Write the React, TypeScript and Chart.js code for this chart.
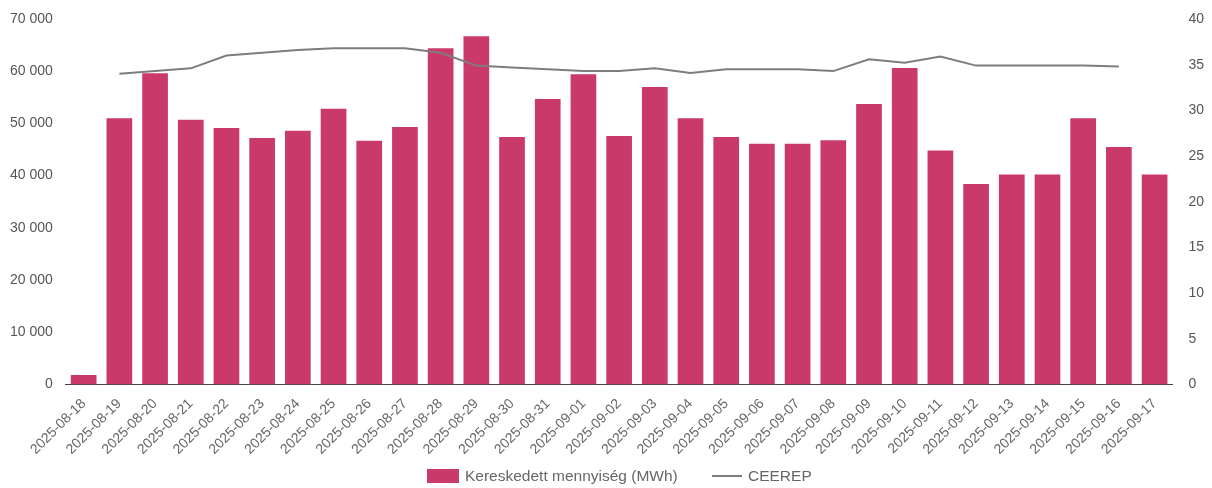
import React, { useEffect, useRef } from "react";
import { Chart, registerables } from "chart.js";

Chart.register(...registerables);

const categories = [
  "2025-08-18", "2025-08-19", "2025-08-20", "2025-08-21", "2025-08-22", "2025-08-23",
  "2025-08-24", "2025-08-25", "2025-08-26", "2025-08-27", "2025-08-28", "2025-08-29",
  "2025-08-30", "2025-08-31", "2025-09-01", "2025-09-02", "2025-09-03", "2025-09-04",
  "2025-09-05", "2025-09-06", "2025-09-07", "2025-09-08", "2025-09-09", "2025-09-10",
  "2025-09-11", "2025-09-12", "2025-09-13", "2025-09-14", "2025-09-15", "2025-09-16",
  "2025-09-17",
];

const volumeMWh = [
  1800, 51000, 59600, 50700, 49100, 47200,
  48600, 52800, 46700, 49300, 64400, 66700,
  47400, 54700, 59400, 47600, 57000, 51000,
  47400, 46100, 46100, 46800, 53700, 60600,
  44800, 38400, 40200, 40200, 51000, 45500,
  40200,
];

const ceerep: (number | null)[] = [
  null, 34.0, 34.3, 34.6, 36.0, 36.3,
  36.6, 36.8, 36.8, 36.8, 36.3, 34.9,
  34.7, 34.5, 34.3, 34.3, 34.6, 34.1,
  34.5, 34.5, 34.5, 34.3, 35.6, 35.2,
  35.9, 34.9, 34.9, 34.9, 34.9, 34.8,
  null,
];

const leftTicks = { min: 0, max: 70000, step: 10000 };
const rightTicks = { min: 0, max: 40, step: 5 };

const seriesNames = ["Kereskedett mennyiség (MWh)", "CEEREP"];
const barColor = "#c93a6b";
const lineColor = "#7d7d7d";

export default function App() {
  const ref = useRef<HTMLCanvasElement | null>(null);

  useEffect(() => {
    if (!ref.current) return;
    const font = { family: "'Liberation Sans', Arial, sans-serif", size: 14 };
    const chart = new Chart(ref.current, {
      type: "bar",
      data: {
        labels: categories,
        datasets: [
          {
            type: "bar",
            label: seriesNames[0],
            data: volumeMWh,
            backgroundColor: barColor,
            borderWidth: 0,
            yAxisID: "y",
            order: 1,
          } as any,
          {
            type: "line",
            label: seriesNames[1],
            data: ceerep,
            borderColor: lineColor,
            backgroundColor: lineColor,
            borderWidth: 2,
            pointRadius: 0,
            tension: 0,
            yAxisID: "y1",
            order: 0,
          } as any,
        ],
      },
      options: {
        responsive: false,
        animation: false,
        maintainAspectRatio: false,
        layout: { padding: { left: 5, right: 0, top: 19, bottom: 27 } },
        plugins: {
          tooltip: { enabled: false },
          legend: { display: false },
        },
        scales: {
          x: {
            grid: { display: false },
            border: { display: true, color: "#444", width: 1 },
            ticks: {
              color: "#666",
              font,
              maxRotation: 45,
              minRotation: 45,
              autoSkip: false,
            },
          },
          y: {
            position: "left",
            min: leftTicks.min,
            max: leftTicks.max,
            grid: { display: false },
            border: { display: false },
            ticks: {
              stepSize: leftTicks.step,
              color: "#555",
              font,
              padding: 5,
              callback: (v: any) =>
                Number(v).toLocaleString("en-US").replace(/,/g, " "),
            },
          },
          y1: {
            position: "right",
            min: rightTicks.min,
            max: rightTicks.max,
            grid: { display: false },
            border: { display: false },
            ticks: { stepSize: rightTicks.step, color: "#555", font, padding: 8 },
          },
        },
      },
    });
    return () => chart.destroy();
  }, []);

  const legendFont: React.CSSProperties = {
    fontFamily: "'Liberation Sans', Arial, sans-serif",
    fontSize: 15.5,
    color: "#666",
    whiteSpace: "nowrap",
    lineHeight: "16px",
  };

  return (
    <div style={{ position: "absolute", left: 0, top: 0, width: 1212, height: 488, background: "#fff" }}>
      <canvas ref={ref} width={1212} height={488} style={{ width: 1212, height: 488, display: "block" }} />
      <div
        style={{
          position: "absolute",
          left: 427,
          top: 468,
          height: 16,
          display: "flex",
          alignItems: "center",
        }}
      >
        <span style={{ display: "inline-block", width: 32, height: 14, background: barColor }} />
        <span style={{ ...legendFont, marginLeft: 6, width: 247, overflow: "visible" }}>{seriesNames[0]}</span>
        <span style={{ display: "inline-block", width: 30, height: 2, background: lineColor }} />
        <span style={{ ...legendFont, marginLeft: 6 }}>{seriesNames[1]}</span>
      </div>
    </div>
  );
}
